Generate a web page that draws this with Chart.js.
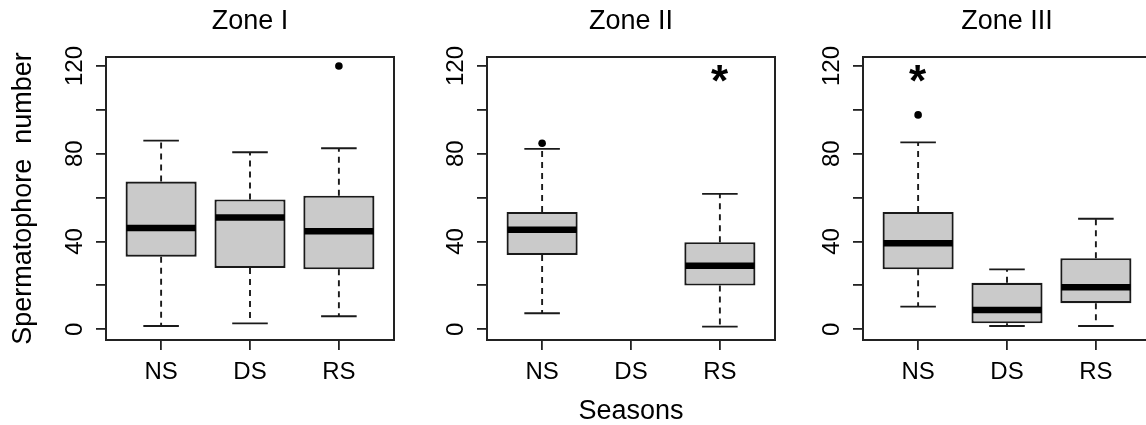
<!DOCTYPE html>
<html>
<head>
<meta charset="utf-8">
<script src="https://cdn.jsdelivr.net/npm/chart.js@4.4.1/dist/chart.umd.min.js"></script>
<style>
  html, body { margin: 0; padding: 0; background: #fff; overflow: hidden; }
  body { width: 1146px; height: 425px; position: relative; }
  .panel { position: absolute; top: 0; height: 425px; }
</style>
</head>
<body>
<div class="panel" style="left:0;width:410px"><canvas id="zone-0"></canvas></div>
<div class="panel" style="left:410px;width:380px"><canvas id="zone-1"></canvas></div>
<div class="panel" style="left:790px;width:380px"><canvas id="zone-2"></canvas></div>
<script>
// ===== Data =====
var seasons = ['NS', 'DS', 'RS'];
var zoneTitles = ['Zone I', 'Zone II', 'Zone III'];
var yTicks = [0, 20, 40, 60, 80, 100, 120];
var yTickLabels = ['0', '', '40', '', '80', '', '120'];

// box summaries per zone, season order NS, DS, RS (null = no samples)
var whiskerLow  = [[1.5, 2.7, 5.9], [7.3, null, 1.2], [10.3, 1.5, 1.5]];
var quartile1   = [[33.1, 27.9, 27.3], [33.9, null, 19.9], [27.3, 2.7, 11.9]];
var medians     = [[46.2, 50.9, 44.7], [45.3, null, 28.9], [39.2, 8.8, 19.1]];
var quartile3   = [[67.3, 59.2, 60.9], [53.5, null, 39.7], [53.5, 21.2, 32.4]];
var whiskerHigh = [[86.0, 80.7, 82.5], [82.2, null, 61.7], [85.2, 27.3, 50.4]];

var outlierSeason = [['RS'], ['NS'], ['NS']];
var outlierValue  = [[120], [84.8], [97.7]];
var starSeason = [[], ['RS'], ['NS']];
var starValue  = [[], [116.7], [116.7]];

// ===== Layout =====
var FONT = '"Liberation Sans", Arial, sans-serif';
var panelLayout = [
  { padLeft: 4, yWidth: 102, padRight: 16 },
  { padLeft: 67, yWidth: 10, padRight: 15 },
  { padLeft: 63, yWidth: 10, padRight: 19 }
];

Chart.defaults.font.family = FONT;
Chart.defaults.color = '#000';

var boxWhisker = {
  id: 'boxWhisker',
  beforeDatasetsDraw: function(chart, args, opts) {
    var z = opts.zone, x = chart.scales.x, y = chart.scales.y, ctx = chart.ctx;
    ctx.save();
    ctx.strokeStyle = '#1a1a1a';
    ctx.lineWidth = 1.9;
    seasons.forEach(function(s, i) {
      if (medians[z][i] == null) return;
      var px = x.getPixelForValue(i + 1);
      var cl = x.getPixelForValue(i + 1 - 0.2), cr = x.getPixelForValue(i + 1 + 0.2);
      var yHi = y.getPixelForValue(whiskerHigh[z][i]), yLo = y.getPixelForValue(whiskerLow[z][i]);
      ctx.setLineDash([6, 5]);
      ctx.beginPath();
      ctx.moveTo(px, y.getPixelForValue(quartile3[z][i])); ctx.lineTo(px, yHi);
      ctx.stroke();
      ctx.beginPath();
      ctx.moveTo(px, y.getPixelForValue(quartile1[z][i])); ctx.lineTo(px, yLo);
      ctx.stroke();
      ctx.setLineDash([]);
      ctx.beginPath();
      ctx.moveTo(cl, yHi); ctx.lineTo(cr, yHi);
      ctx.moveTo(cl, yLo); ctx.lineTo(cr, yLo);
      ctx.stroke();
    });
    ctx.restore();
  },
  afterDatasetsDraw: function(chart, args, opts) {
    var z = opts.zone, x = chart.scales.x, y = chart.scales.y, ctx = chart.ctx;
    var area = chart.chartArea;
    ctx.save();
    // medians
    ctx.strokeStyle = '#000';
    ctx.lineWidth = 6.5;
    seasons.forEach(function(s, i) {
      if (medians[z][i] == null) return;
      var py = y.getPixelForValue(medians[z][i]);
      ctx.beginPath();
      ctx.moveTo(x.getPixelForValue(i + 1 - 0.39), py);
      ctx.lineTo(x.getPixelForValue(i + 1 + 0.39), py);
      ctx.stroke();
    });
    // frame
    ctx.lineWidth = 2;
    ctx.strokeStyle = '#222';
    ctx.strokeRect(area.left, area.top, area.right - area.left, area.bottom - area.top);
    // y tick labels, turned like R's default
    ctx.fillStyle = '#000';
    ctx.font = '24px ' + FONT;
    ctx.textAlign = 'center';
    ctx.textBaseline = 'alphabetic';
    yTicks.forEach(function(v, k) {
      if (!yTickLabels[k]) return;
      ctx.save();
      ctx.translate(area.left - 24, y.getPixelForValue(v));
      ctx.rotate(-Math.PI / 2);
      ctx.fillText(yTickLabels[k], 0, 0);
      ctx.restore();
    });
    // significance stars
    ctx.font = 'bold 44px ' + FONT;
    ctx.textAlign = 'left';
    starSeason[z].forEach(function(s, k) {
      var m = ctx.measureText('*');
      var px = x.getPixelForValue(seasons.indexOf(s) + 1);
      var py = y.getPixelForValue(starValue[z][k]);
      ctx.fillText('*', px + (m.actualBoundingBoxLeft - m.actualBoundingBoxRight) / 2,
        py + (m.actualBoundingBoxAscent - m.actualBoundingBoxDescent) / 2);
    });
    ctx.restore();
  }
};

function makeZone(z) {
  var lay = panelLayout[z];
  var boxes = [];
  seasons.forEach(function(s, i) {
    if (medians[z][i] != null) boxes.push({ x: i + 1, y: [quartile1[z][i], quartile3[z][i]] });
  });
  var outliers = outlierSeason[z].map(function(s, k) {
    return { x: seasons.indexOf(s) + 1, y: outlierValue[z][k] };
  });

  return new Chart(document.getElementById('zone-' + z), {
    type: 'bar',
    data: {
      datasets: [
        {
          data: boxes,
          backgroundColor: '#cacaca',
          borderColor: '#1a1a1a',
          borderWidth: 2.2,
          borderSkipped: false,
          categoryPercentage: 1,
          barPercentage: 0.8
        },
        {
          type: 'scatter',
          data: outliers,
          pointRadius: 3.8,
          pointBackgroundColor: '#000',
          pointBorderWidth: 0,
          showLine: false
        }
      ]
    },
    plugins: [boxWhisker],
    options: {
      responsive: true,
      maintainAspectRatio: false,
      animation: false,
      layout: { padding: { left: lay.padLeft, right: lay.padRight, top: 0, bottom: 0 } },
      plugins: {
        legend: { display: false },
        tooltip: { enabled: false },
        boxWhisker: { zone: z },
        title: {
          display: true,
          text: zoneTitles[z],
          fullSize: false,
          color: '#000',
          font: { size: 27, weight: 'normal' },
          padding: { top: 5.5, bottom: 19.1 }
        }
      },
      scales: {
        x: {
          type: 'linear',
          min: 0.38,
          max: 3.62,
          offset: false,
          afterBuildTicks: function(axis) {
            axis.ticks = seasons.map(function(s, i) { return { value: i + 1 }; });
          },
          afterFit: function(axis) { axis.height = 85; },
          ticks: {
            padding: 8,
            color: '#000',
            font: { size: 24 },
            callback: function(v) { return seasons[v - 1]; }
          },
          grid: { offset: false, drawOnChartArea: false, drawTicks: true, tickLength: 10, color: '#222', lineWidth: 1.8 },
          border: { display: false },
          title: {
            display: z === 1,
            text: 'Seasons',
            color: '#000',
            font: { size: 27, lineHeight: '20px' },
            padding: { top: 0, bottom: 3 }
          }
        },
        y: {
          type: 'linear',
          min: -4.9,
          max: 124.1,
          afterBuildTicks: function(axis) {
            axis.ticks = yTicks.map(function(v) { return { value: v }; });
          },
          afterFit: function(axis) { axis.width = lay.yWidth; },
          ticks: { display: false },
          grid: { drawOnChartArea: false, drawTicks: true, tickLength: 10, color: '#222', lineWidth: 1.8 },
          border: { display: false },
          title: {
            display: z === 0,
            text: 'Spermatophore  number',
            color: '#000',
            font: { size: 27 },
            padding: { top: 3, bottom: 0 }
          }
        }
      }
    }
  });
}

[0, 1, 2].forEach(makeZone);
</script>
</body>
</html>
